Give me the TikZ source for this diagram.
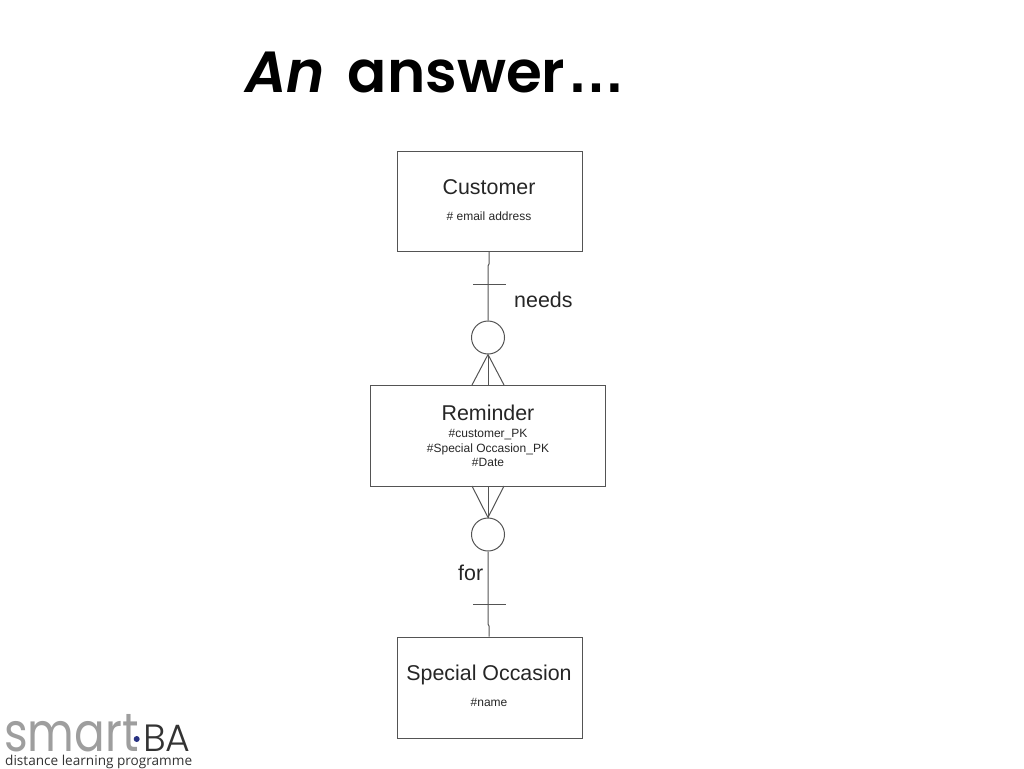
\documentclass[tikz,border=0pt]{standalone}
\usepackage{fontspec}
\setmainfont{Liberation Sans}
\newfontfamily\titlefont{Poppins SemiBold}
\newfontfamily\logofont{Poppins}
\newfontfamily\logothinfont{Poppins Light}
\newfontfamily\taglinefont{Open Sans}
\definecolor{linegray}{gray}{0.33}
\definecolor{logogray}{gray}{0.62}
\definecolor{logoblue}{RGB}{40,50,130}
\definecolor{taggray}{gray}{0.2}
\tikzset{
    entity/.style={draw=linegray, line width=1pt, minimum height=100pt, inner sep=0pt},
    optional/.style={circle, draw=linegray, line width=1pt, minimum size=33pt, inner sep=0pt},
    link/.style={draw=linegray, line width=1pt},
    lbl/.style={inner sep=0pt, text=black!85},
    bigtext/.style={font=\fontsize{21.4}{21.4}\selectfont},
    smalltext/.style={font=\fontsize{12}{12}\selectfont}
}

\begin{document}
\begin{tikzpicture}[x=1pt,y=-1pt]
    \useasboundingbox (0,0) rectangle (1024,768);

    \node[inner sep=0pt, anchor=base west, font=\titlefont\fontsize{58}{58}\selectfont] (title) at (245,92) {\textit{An}\hspace{9pt} answer\hspace{2pt}{\rmfamily\bfseries …}};

    % the three boxes
    \node[entity, minimum width=185pt] (customer) at (489.5,201) {};
    \node[entity, minimum width=235pt, minimum height=101pt] (reminder) at (488,435.5) {};
    \node[entity, minimum width=185pt, minimum height=101pt] (special) at (489.5,687.5) {};

    \node[lbl, bigtext, anchor=base] (customername) at (489,194) {Customer};
    \node[lbl, smalltext, anchor=base] (customerkey) at (489,220) {\# email address};
    \node[lbl, bigtext, anchor=base] (remindername) at (488,420) {Reminder};
    \node[lbl, smalltext, anchor=base] (reminderkeya) at (488,437) {\#customer\_PK};
    \node[lbl, smalltext, anchor=base] (reminderkeyb) at (488,452) {\#Special Occasion\_PK};
    \node[lbl, smalltext, anchor=base] (reminderkeyc) at (488,466) {\#Date};
    \node[lbl, bigtext, anchor=base] (specialname) at (489,680) {Special Occasion};
    \node[lbl, smalltext, anchor=base] (specialkey) at (489,706) {\#name};

    % the two circles
    \node[optional] (needscircle) at (488,337.5) {};
    \node[optional] (forcircle) at (488,534.5) {};

    % upper relationship
    \coordinate (topjoga) at (489,264);
    \coordinate (topjogb) at (488,266);
    \coordinate (topbarl) at (473,284);
    \coordinate (topbarr) at (506,284);
    \coordinate (topfootl) at (472,385);
    \coordinate (topfootm) at (488,385);
    \coordinate (topfootr) at (504,385);
    \draw[link] (customer.south -| topjoga) -- (topjoga) -- (topjogb) -- (needscircle.north);
    \draw[link, line width=0.7pt] (topbarl) -- (topbarr);
    \draw[link] (needscircle.south) -- (topfootl);
    \draw[link] (needscircle.south) -- (topfootm);
    \draw[link] (needscircle.south) -- (topfootr);
    \node[lbl, bigtext, anchor=base west] (needs) at (514,307) {needs};

    % lower relationship
    \coordinate (botjoga) at (489,626);
    \coordinate (botjogb) at (488,624);
    \coordinate (botbarl) at (473,604.5);
    \coordinate (botbarr) at (506,604.5);
    \coordinate (botfootl) at (472,486);
    \coordinate (botfootm) at (488,486);
    \coordinate (botfootr) at (504,486);
    \draw[link] (forcircle.south) -- (botjogb) -- (botjoga) -- (special.north -| botjoga);
    \draw[link, line width=0.7pt] (botbarl) -- (botbarr);
    \draw[link] (forcircle.north) -- (botfootl);
    \draw[link] (forcircle.north) -- (botfootm);
    \draw[link] (forcircle.north) -- (botfootr);
    \node[lbl, bigtext, anchor=base west] (for) at (458,580) {for};

    % logo
    \node[inner sep=0pt, anchor=base west, text=logogray, font=\logofont\fontsize{54}{54}\selectfont] (logosmart) at (4,751) {\scalebox{0.84}[1]{smart}};
    \fill[logoblue] (136.7,739) circle (3pt);
    \node[inner sep=0pt, anchor=base west, text=taggray, font=\logothinfont\fontsize{38}{38}\selectfont] (logoba) at (143,751) {BA};
    \node[inner sep=0pt, anchor=base west, text=taggray, font=\taglinefont\fontsize{13.6}{13.6}\selectfont] (logotag) at (5,765.5) {distance learning programme};
\end{tikzpicture}
\end{document}
